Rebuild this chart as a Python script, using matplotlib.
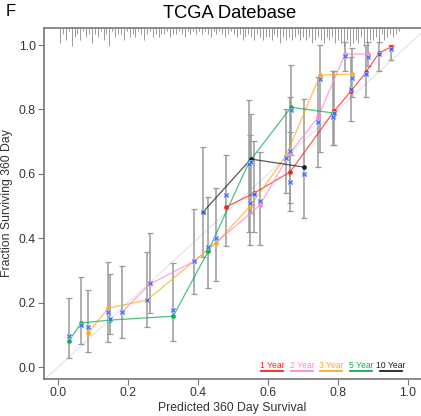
import numpy as np
import matplotlib
matplotlib.use('Agg')
import matplotlib.pyplot as plt

plt.rcParams['font.family'] = ['Liberation Sans', 'DejaVu Sans']

# 1 Year
x1 = [0.480, 0.560, 0.663, 0.789, 0.837, 0.880, 0.917, 0.951]
obs1 = [0.497, 0.540, 0.606, 0.795, 0.857, 0.916, 0.975, 0.994]
cor1 = [0.534, 0.537, 0.575, 0.789, 0.863, 0.910, 0.972, 0.988]
lo1 = [0.376, 0.419, 0.484, 0.689, 0.764, 0.839, 0.919, 0.953]
hi1 = [0.658, 0.702, 0.730, 0.919, 0.963, 1.000, 1.010, 1.000]

# 2 Year
x2 = [0.183, 0.263, 0.389, 0.577, 0.663, 0.743, 0.820, 0.886]
obs2 = [0.171, 0.258, 0.329, 0.503, 0.665, 0.776, 0.972, 0.972]
cor2 = [0.171, 0.262, 0.329, 0.516, 0.671, 0.761, 0.966, 0.963]
lo2 = [0.090, 0.168, 0.227, 0.379, 0.510, 0.620, 0.919, 0.935]
hi2 = [0.314, 0.416, 0.491, 0.668, 0.840, 0.900, 1.010, 1.010]

# 3 Year
x3 = [0.086, 0.143, 0.254, 0.451, 0.549, 0.651, 0.749, 0.840]
obs3 = [0.106, 0.183, 0.208, 0.385, 0.500, 0.655, 0.907, 0.910]
cor3 = [0.124, 0.171, 0.208, 0.401, 0.509, 0.649, 0.894, 0.897]
lo3 = [0.047, 0.078, 0.124, 0.267, 0.379, 0.540, 0.668, 0.839]
hi3 = [0.239, 0.326, 0.357, 0.556, 0.720, 0.800, 1.000, 0.990]

# 5 Year
x5 = [0.031, 0.066, 0.149, 0.329, 0.429, 0.546, 0.666, 0.786]
obs5 = [0.081, 0.137, 0.146, 0.158, 0.360, 0.637, 0.807, 0.789]
cor5 = [0.096, 0.130, 0.149, 0.177, 0.373, 0.630, 0.798, 0.776]
lo5 = [0.028, 0.071, 0.102, 0.081, 0.245, 0.420, 0.660, 0.689]
hi5 = [0.214, 0.280, 0.289, 0.323, 0.528, 0.829, 0.938, 0.919]

# 10 Year
x10 = [0.414, 0.551, 0.703]
obs10 = [0.481, 0.646, 0.621]
cor10 = [0.481, 0.637, 0.599]
lo10 = [0.342, 0.480, 0.463]
hi10 = [0.683, 0.786, 0.832]

# distribution of predictions (spike counts along the top)
rug_counts = [5, 2, 4, 1, 6, 3, 2, 4, 1, 3, 2, 5,
              2, 3, 1, 4, 2, 6, 1, 3, 2, 2, 4, 1,
              3, 2, 3, 1, 2, 4, 2, 1, 3, 2, 3, 2,
              2, 1, 3, 2, 2, 1, 2, 3, 1, 2, 1, 2,
              1, 2, 1, 2, 3, 1, 2, 1, 2, 3, 2, 1,
              2, 3, 2, 4, 3, 2, 3, 4, 2, 3, 4, 3,
              3, 4, 2, 3, 5, 3, 4, 3, 4, 3, 2, 4,
              3, 4, 3, 5, 4, 3, 4, 5, 3, 4, 3, 5,
              4, 5, 6, 4, 6, 5, 4, 5, 3, 6, 5, 4,
              4, 3, 5, 2, 4, 3, 2, 3, 2, 1]

labels = ['1 Year', '2 Year', '3 Year', '5 Year', '10 Year']
colors = ['#ff2020', '#ff88d0', '#ffaa22', '#10b050', '#202020']
series = [(x1, obs1, cor1, lo1, hi1), (x2, obs2, cor2, lo2, hi2),
          (x3, obs3, cor3, lo3, hi3), (x5, obs5, cor5, lo5, hi5),
          (x10, obs10, cor10, lo10, hi10)]

fig = plt.figure(figsize=(4.21, 4.16), dpi=100)
ax = fig.add_axes([44/421, 37/416, 377/421, 351/416])
XL = (-0.04, 1.037)
YL = (-0.037, 1.053)

ax.plot(XL, XL, color='#e6e6e6', lw=0.9, zorder=1)

for (x, o, c, lo, hi), col in zip(series, colors):
    x = np.array(x); o = np.array(o)
    err = [o - np.array(lo), np.array(hi) - o]
    ax.errorbar(x, o, yerr=err, fmt='none', ecolor='#9a9a9a', elinewidth=1.1,
                capsize=2.5, capthick=0.9, zorder=2)
for (x, o, c, lo, hi), col in zip(series, colors):
    ax.plot(x, o, color=col, lw=0.9, alpha=0.75, zorder=3)
    ax.plot(x, o, 'o', color=col, ms=3.4, mew=0, zorder=4)
    ax.plot(x, c, 's', mfc='none', mec='#c0cdff', ms=3.4, mew=0.6, zorder=5)
    ax.plot(x, c, 'x', color='#3a6cff', ms=3.0, mew=0.8, zorder=6)

# spikes at top
rx = np.linspace(0.006, 0.974, len(rug_counts))
ax.vlines(rx, YL[1] - 0.0095 * np.array(rug_counts), YL[1], color='#8a8a8a', lw=0.6, zorder=2)

# legend text with underline
leg_x = [0.611, 0.697, 0.780, 0.866, 0.951]
for lx, lab, col in zip(leg_x, labels, colors):
    ax.text(lx, 0.004, lab, color=col, fontsize=6.2, ha='center', va='center', zorder=7)
    ax.plot([lx - 0.032, lx + 0.032], [-0.013, -0.013], color=col, lw=1.3, zorder=7)

ax.set_xlim(XL)
ax.set_ylim(YL)
ax.set_xticks([0, 0.2, 0.4, 0.6, 0.8, 1.0])
ax.set_yticks([0, 0.2, 0.4, 0.6, 0.8, 1.0])
ax.set_xticklabels(['0.0', '0.2', '0.4', '0.6', '0.8', '1.0'])
ax.set_yticklabels(['0.0', '0.2', '0.4', '0.6', '0.8', '1.0'])
ax.tick_params(direction='out', length=4, width=0.8, color='#777777', labelcolor='#333333',
               labelsize=8.8, pad=2)
for s in ['left', 'bottom', 'top']:
    ax.spines[s].set_color('#777777')
    ax.spines[s].set_linewidth(1.2)
ax.spines['right'].set_visible(False)
ax.set_xlabel('Predicted 360 Day Survival', fontsize=8.8, color='#333333', labelpad=2)
ax.set_ylabel('Fraction Surviving 360 Day', fontsize=8.8, color='#333333', labelpad=4)

fig.text(230/421, 1 - 13/416, 'TCGA Datebase', fontsize=13.2, ha='center', va='center')
fig.text(6/421, 1 - 11/416, 'F', fontsize=12, ha='left', va='center')

fig.savefig('out.png', dpi=100)
